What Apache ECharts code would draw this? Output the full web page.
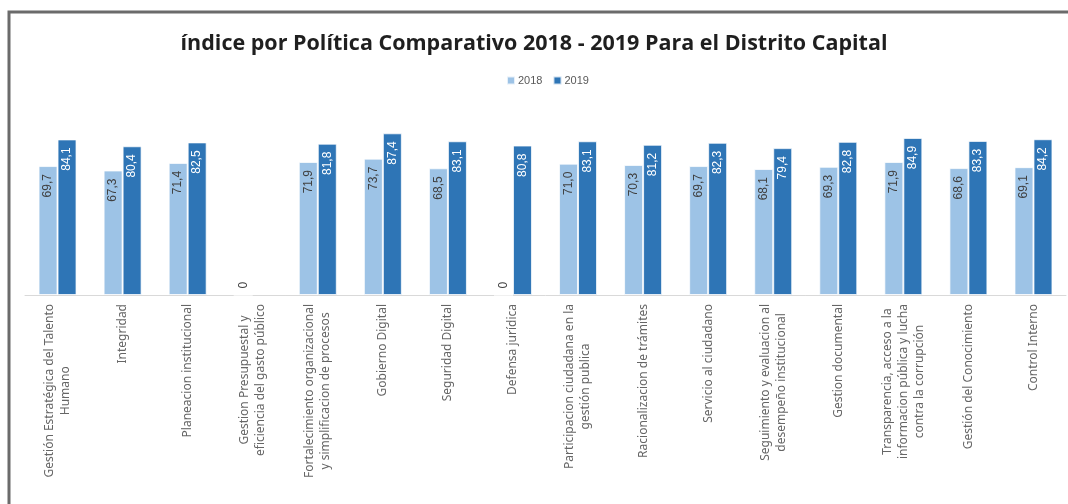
<!DOCTYPE html>
<html>
<head>
<meta charset="utf-8">
<script src="https://cdn.jsdelivr.net/npm/echarts@6/dist/echarts.min.js"></script>
<style>
  html, body { margin: 0; padding: 0; background: #fff; }
  #chart { width: 1068px; height: 504px; }
</style>
</head>
<body>
<div id="chart"></div>
<script>
const categories = [
    "Gestión Estratégica del Talento\nHumano",
    "Integridad",
    "Planeacion institucional",
    "Gestion Presupuestal y\neficiencia del gasto público",
    "Fortalecimiento organizacional\ny simplificacion de procesos",
    "Gobierno Digital",
    "Seguridad Digital",
    "Defensa jurídica",
    "Participacion ciudadana en la\ngestión publica",
    "Racionalizacion de trámites",
    "Servicio al ciudadano",
    "Seguimiento y evaluacion al\ndesempeño institucional",
    "Gestion documental",
    "Transparencia, acceso a la\ninformacion pública y lucha\ncontra la corrupción",
    "Gestión del Conocimiento",
    "Control Interno"
];
const values2018 = [69.7, 67.3, 71.4, 0, 71.9, 73.7, 68.5, 0, 71.0, 70.3, 69.7, 68.1, 69.3, 71.9, 68.6, 69.1];
const values2019 = [84.1, 80.4, 82.5, null, 81.8, 87.4, 83.1, 80.8, 83.1, 81.2, 82.3, 79.4, 82.8, 84.9, 83.3, 84.2];

const fmt = v => v === 0 ? "0" : v.toFixed(1).replace(".", ",");

// zero values get their label above the axis line
function toData(arr) {
    return arr.map(v => {
        if (v === 0) {
            return {
                value: 0,
                label: { position: "top", align: "left", color: "#404040", distance: 6 }
            };
        }
        return v;
    });
}

function barSeries(name, arr, color, labelColor) {
    return {
        name: name,
        type: "bar",
        barWidth: 19,
        barGap: "0%",
        itemStyle: { color: color, borderColor: "rgba(255,255,255,0.75)", borderWidth: 1 },
        label: {
            show: true,
            position: "insideTop",
            rotate: 90,
            align: "right",
            verticalAlign: "middle",
            distance: 8,
            fontFamily: "Liberation Sans",
            fontSize: 12,
            color: labelColor,
            formatter: p => p.value == null ? "" : fmt(p.value)
        },
        data: toData(arr)
    };
}

let chart = echarts.init(document.getElementById("chart"));

let option = {
    animation: false,
    graphic: [{
        type: "polyline",
        shape: { points: [[9, 504], [9, 12], [1068, 12]] },
        style: { stroke: "#6b6b6b", lineWidth: 3, fill: null }
    }],
    title: {
        text: "índice por Política Comparativo 2018 - 2019 Para el Distrito Capital",
        left: "center",
        top: 28,
        textStyle: { fontFamily: "Open Sans", fontWeight: "bold", fontSize: 21.5, color: "#1f1f1f" }
    },
    legend: {
        left: 506,
        top: 75,
        padding: 0,
        itemWidth: 8,
        itemHeight: 8,
        itemGap: 10,
        icon: "rect",
        textStyle: { fontFamily: "Liberation Sans", fontSize: 11, color: "#595959", padding: [0, 0, 0, -2] },
        data: ["2018", "2019"]
    },
    grid: { left: 25, right: 2, top: 110, bottom: 209, containLabel: false },
    xAxis: {
        type: "category",
        data: categories,
        axisLine: { lineStyle: { color: "#d9d9d9", width: 1 } },
        axisTick: { show: false },
        axisLabel: {
            interval: 0,
            rotate: 90,
            margin: 9,
            color: "#666666",
            fontFamily: "Noto Sans",
            fontSize: 12,
            lineHeight: 16,
            formatter: v => v.split("\n").map(l => "{c|" + l + "}").join("\n"),
            rich: {
                c: { align: "center", fontFamily: "Noto Sans", fontSize: 12, lineHeight: 16, color: "#666666" }
            }
        }
    },
    yAxis: { type: "value", min: 0, max: 100, show: false, splitLine: { show: false } },
    series: [
        barSeries("2018", values2018, "#9dc3e6", "#404040"),
        barSeries("2019", values2019, "#2e75b6", "#ffffff")
    ]
};

chart.setOption(option);
</script>
</body>
</html>
